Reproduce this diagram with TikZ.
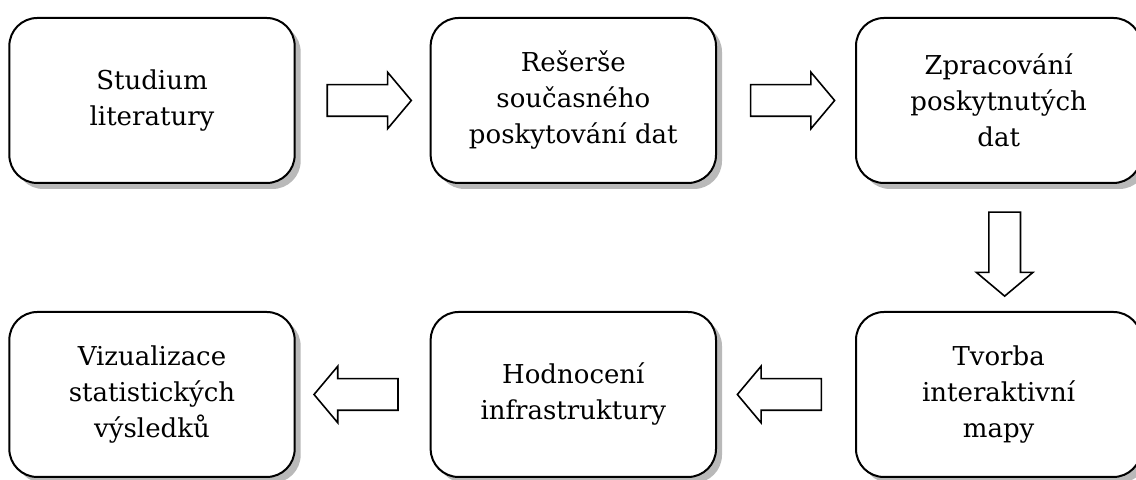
\documentclass[tikz,border=0pt]{standalone}
\usepackage{fontspec}
\setmainfont{DejaVu Serif}
\usepackage{tikz}
\usetikzlibrary{shapes,arrows,positioning,shadows}

\begin{document}
\begin{tikzpicture}[
    stage/.style={rectangle, rounded corners=14pt, draw, line width=1pt, fill=white,
        drop shadow={shadow xshift=3pt, shadow yshift=-3pt, fill=black!55},
        text width=136pt, text centered, minimum width=141.5pt, minimum height=82.5pt,
        font=\fontsize{13}{18}\selectfont},
    flow/.style={single arrow, draw, line width=0.8pt, fill=white,
        inner xsep=0pt, inner ysep=7.5pt,
        minimum height=42pt, single arrow head extend=6.25pt,
        single arrow tip angle=100, sloped, allow upside down}
]
\useasboundingbox (0,0) rectangle (568pt,240pt);

% Upper row
\node[stage] (lit) at (76pt,189.75pt) {Studium\\literatury};
\node[stage, right=67pt of lit] (res) {Rešerše\\současného\\poskytování dat};
\node[stage, right=69pt of res] (zpr) {Zpracování\\poskytnutých\\dat};

% Lower row
\node[stage, below=63.5pt of zpr] (tvo) {Tvorba\\interaktivní\\mapy};
\node[stage, left=69pt of tvo] (hod) {Hodnocení\\infrastruktury};
\node[stage, left=67pt of hod] (viz) {Vizualizace\\statistických\\výsledků};

% Arrows
\path (lit) -- node[flow] (a1) {} (res);
\path (res) -- node[flow] (a2) {} (zpr);
\path ([xshift=3pt]zpr.south) -- node[flow] (a3) {} ([xshift=3pt]tvo.north);
\path (tvo) -- node[flow] (a4) {} (hod);
\path (hod) -- node[flow] (a5) {} (viz);

\end{tikzpicture}
\end{document}
